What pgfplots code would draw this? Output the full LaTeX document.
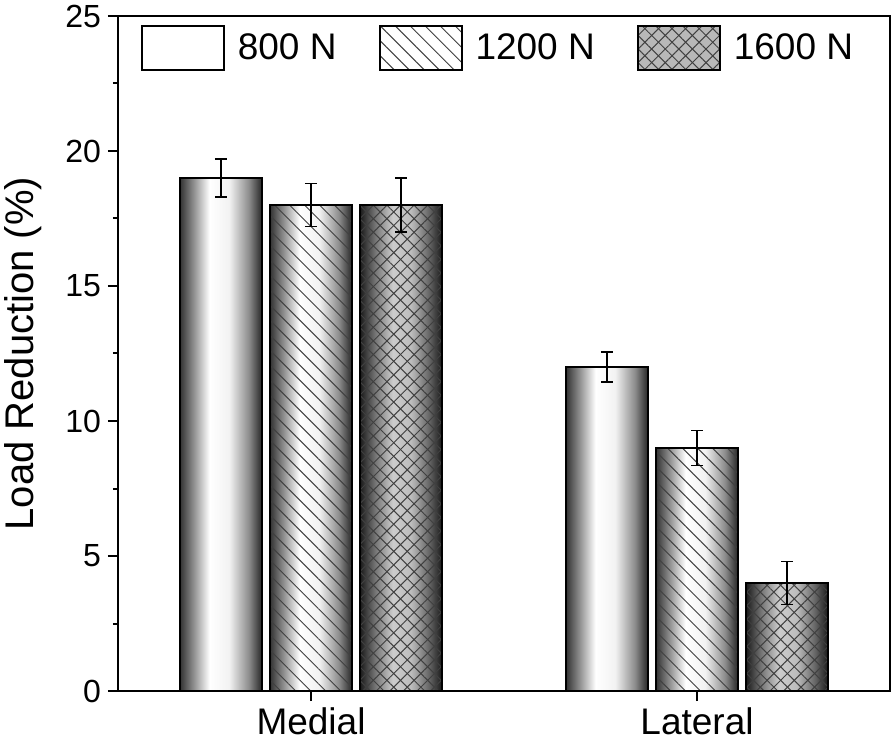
\documentclass[border=0pt]{standalone}
\usepackage{fontspec}
\setmainfont{Liberation Sans}
\usepackage{pgfplots}
\pgfplotsset{compat=1.18}
\usepackage{pgfplotstable}
\usetikzlibrary{patterns.meta}

% cylinder-like shadings for the bars
\pgfdeclarehorizontalshading{cylw}{100bp}{color(0bp)=(black!80); color(25bp)=(black!80); color(33bp)=(black!45); color(43bp)=(white); color(55bp)=(black!5); color(67bp)=(black!45); color(75bp)=(black!85); color(100bp)=(black!85)}
\pgfdeclarehorizontalshading{cylg}{100bp}{color(0bp)=(black!90); color(25bp)=(black!90); color(34bp)=(black!55); color(45bp)=(black!20); color(56bp)=(black!26); color(67bp)=(black!60); color(75bp)=(black!90); color(100bp)=(black!90)}

\pgfplotstableread{
x y1 e1 y2 e2 y3 e3
0 19 0.7 18 0.8 18 1.0
1 12 0.55 9 0.65 4 0.8
}\loadtable

\pgfplotsset{
  shadebar/.style={ybar, bar width=41pt, draw=none, shade, forget plot},
  outbar/.style={ybar, bar width=41pt, draw=black, line width=1pt, forget plot},
  errbar/.style={draw=none, mark=none, forget plot,
    error bars/.cd, y dir=both, y explicit, error mark=-,
    error bar style={black, line width=0.8pt},
    error mark options={black, line width=0.8pt, mark size=3pt, rotate=90}},
  first/.style={skip coords between index={1}{2}},
  second/.style={skip coords between index={0}{1}},
}

\begin{document}
\begin{tikzpicture}
\begin{axis}[
  width=386pt, height=337.5pt, scale only axis,
  xmin=-0.5, xmax=1.5, ymin=0, ymax=25,
  xtick={0,1}, xticklabels={Medial,Lateral},
  ytick={0,5,...,25}, minor y tick num=1,
  tick align=outside, xtick pos=bottom, ytick pos=left,
  major tick length=5pt, minor tick length=2.5pt,
  tick style={black, line width=1pt},
  axis line style={line width=1.3pt},
  ylabel={Load Reduction (\%)},
  ylabel style={font=\fontsize{20}{24}\selectfont, at={(axis description cs:-0.123,0.5)}, anchor=center},
  yticklabel style={font=\fontsize{16}{19}\selectfont},
  xticklabel style={font=\fontsize{18.5}{22}\selectfont},
  /pgf/number format/assume math mode=true,
  legend style={draw=none, fill=none, at={(axis description cs:0.029,0.9867)}, anchor=north west,
    inner sep=0pt, nodes={inner sep=0pt}, font=\fontsize{18.5}{22}\selectfont,
    /tikz/every odd column/.append style={column sep=6.5pt},
    /tikz/every even column/.append style={column sep=21pt}},
  legend columns=3,
]
% shaded bodies, one path per bar
\addplot[shadebar, bar shift=-45pt, shading=cylw, first] table[x=x, y=y1]{\loadtable};
\addplot[shadebar, bar shift=-45pt, shading=cylw, second] table[x=x, y=y1]{\loadtable};
\addplot[shadebar, bar shift=0pt, shading=cylw, first] table[x=x, y=y2]{\loadtable};
\addplot[shadebar, bar shift=0pt, shading=cylw, second] table[x=x, y=y2]{\loadtable};
\addplot[shadebar, bar shift=45pt, shading=cylg, first] table[x=x, y=y3]{\loadtable};
\addplot[shadebar, bar shift=45pt, shading=cylg, second] table[x=x, y=y3]{\loadtable};
% hatching and outlines
\addplot[outbar, bar shift=-45pt, fill=none] table[x=x, y=y1]{\loadtable};
\addplot[outbar, bar shift=0pt, pattern={Lines[angle=-45,distance=5.3pt,line width=0.5pt]}, pattern color=black!75]
  table[x=x, y=y2]{\loadtable};
\addplot[outbar, bar shift=45pt, draw=none, pattern={Lines[angle=45,distance=4.8pt,line width=0.5pt]}, pattern color=black!75]
  table[x=x, y=y3]{\loadtable};
\addplot[outbar, bar shift=45pt, pattern={Lines[angle=-45,distance=4.8pt,line width=0.5pt]}, pattern color=black!75]
  table[x=x, y=y3]{\loadtable};
% error bars, at the bar centres
\addplot[x filter/.expression={x-0.2332}, errbar] table[x=x, y=y1, y error=e1]{\loadtable};
\addplot[errbar] table[x=x, y=y2, y error=e2]{\loadtable};
\addplot[x filter/.expression={x+0.2332}, errbar] table[x=x, y=y3, y error=e3]{\loadtable};
% legend
\addlegendimage{legend image code/.code={\draw[black, line width=1pt, fill=white] (0pt,-11pt) rectangle (41pt,11pt);}}
\addlegendentry{800 N}
\addlegendimage{legend image code/.code={\draw[black, line width=1pt, fill=white,
  postaction={pattern={Lines[angle=-45,distance=5.3pt,line width=0.5pt]}, pattern color=black!75}] (0pt,-11pt) rectangle (41pt,11pt);}}
\addlegendentry{1200 N}
\addlegendimage{legend image code/.code={\draw[black, line width=1pt, fill=black!28,
  postaction={pattern={Lines[angle=-45,distance=4.8pt,line width=0.5pt]}, pattern color=black!75},
  postaction={pattern={Lines[angle=45,distance=4.8pt,line width=0.5pt]}, pattern color=black!75}] (0pt,-11pt) rectangle (41pt,11pt);}}
\addlegendentry{1600 N}
\end{axis}
\pgfresetboundingbox
\useasboundingbox (-59pt,-32pt) rectangle (388pt,345.5pt);
\end{tikzpicture}
\end{document}
